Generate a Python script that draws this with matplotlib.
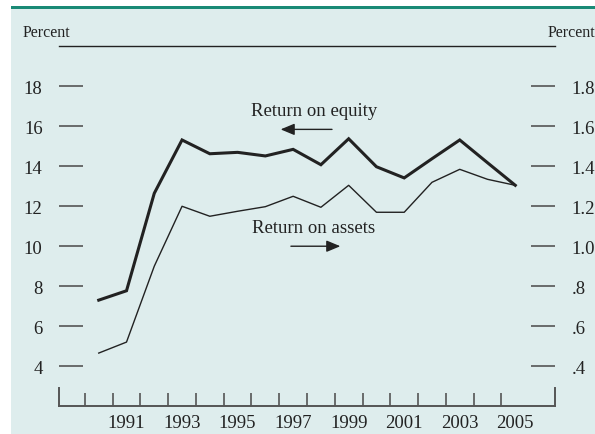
import matplotlib.pyplot as plt
from matplotlib.patches import Rectangle

# andmed (loetud pildilt)
aastad = list(range(1990, 2006))
omakapital = [7.3, 7.77, 12.65, 15.32, 14.63, 14.7, 14.52, 14.85, 14.08, 15.38, 13.98, 13.42, 14.38, 15.32, 14.18, 13.05]
varad = [0.465, 0.52, 0.90, 1.20, 1.15, 1.175, 1.198, 1.25, 1.195, 1.305, 1.17, 1.17, 1.32, 1.385, 1.335, 1.305]
vasak_tickid = [4, 6, 8, 10, 12, 14, 16, 18]
parem_tickid = [0.4, 0.6, 0.8, 1.0, 1.2, 1.4, 1.6, 1.8]
parem_sildid = [".4", ".6", ".8", "1.0", "1.2", "1.4", "1.6", "1.8"]
aasta_sildid = [str(a) for a in range(1991, 2006, 2)]

taust = "#deeded"
roheline = "#1a8a76"
tick_v = "#555555"
fsize = 13.5
plt.rcParams['font.family'] = ['Liberation Serif', 'DejaVu Serif']

fig = plt.figure(figsize=(5.95, 4.35), dpi=100)
fig.patch.set_facecolor("white")
fig.patches.append(Rectangle((11/595, 0), 1, (435 - 10)/435, transform=fig.transFigure,
                             facecolor=taust, edgecolor="none", zorder=-2))
fig.patches.append(Rectangle((11/595, (435 - 10)/435), 1, 3/435, transform=fig.transFigure,
                             facecolor=roheline, edgecolor="none", zorder=-1))

ax = fig.add_axes([59.3/595, (435 - 407)/435, (555 - 59.3)/595, (407 - 46.5)/435])
ax.set_facecolor("none")
ax2 = ax.twinx()
ax2.set_facecolor("none")

ax.plot(aastad, omakapital, color="#222222", lw=2.2, solid_joinstyle="miter")
ax2.plot(aastad, varad, color="#222222", lw=1.0)

ax.set_xlim(1988.58, 2006.43)
ax.set_ylim(2, 20.05)
ax2.set_ylim(0.2, 2.005)

# teljed
for s in ["left", "right"]:
    ax.spines[s].set_bounds(2, 2.9)
    ax.spines[s].set_color(tick_v)
    ax.spines[s].set_linewidth(1.4)
ax.spines["bottom"].set_color(tick_v)
ax.spines["bottom"].set_linewidth(1.4)
ax.spines["top"].set_color("#222222")
ax.spines["top"].set_linewidth(1.0)
for s in ax2.spines.values():
    s.set_visible(False)

ax.set_yticks(vasak_tickid)
ax.set_yticklabels([str(v) for v in vasak_tickid])
ax.tick_params(axis="y", direction="in", length=17, width=1.2, color=tick_v,
               pad=12, labelsize=fsize, labelcolor="#222222")
ax2.set_yticks(parem_tickid)
ax2.set_yticklabels(parem_sildid)
ax2.tick_params(axis="y", direction="in", length=17, width=1.2, color=tick_v,
                pad=12, labelsize=fsize, labelcolor="#222222")

ax.set_xticks(list(range(1991, 2006, 2)))
ax.set_xticklabels(aasta_sildid)
ax.set_xticks([a - 0.5 for a in range(1990, 2006)], minor=True)
ax.tick_params(axis="x", which="major", length=0, pad=6, labelsize=fsize, labelcolor="#222222")
ax.tick_params(axis="x", which="minor", direction="in", length=9.5, width=1.2, color=tick_v)

# sildid ja nooled
ax.text(1997.75, 16.55, "Return on equity", ha="center", va="baseline", fontsize=fsize, color="#222222")
ax.annotate("", xy=(1996.45, 15.85), xytext=(1998.5, 15.85),
            arrowprops=dict(arrowstyle="-|>,head_length=0.6,head_width=0.25", color="#222222",
                            lw=1.0, mutation_scale=14))
ax.text(1997.75, 10.7, "Return on assets", ha="center", va="baseline", fontsize=fsize, color="#222222")
ax.annotate("", xy=(1998.8, 10.0), xytext=(1996.82, 10.0),
            arrowprops=dict(arrowstyle="-|>,head_length=0.6,head_width=0.25", color="#222222",
                            lw=1.0, mutation_scale=14))

fig.text(23/595, (435 - 36.7)/435, "Percent", ha="left", va="baseline", fontsize=11.5, color="#222222")
fig.text(1.0, (435 - 36.7)/435, "Percent", ha="right", va="baseline", fontsize=11.5, color="#222222")

fig.savefig("out.png", dpi=100)
